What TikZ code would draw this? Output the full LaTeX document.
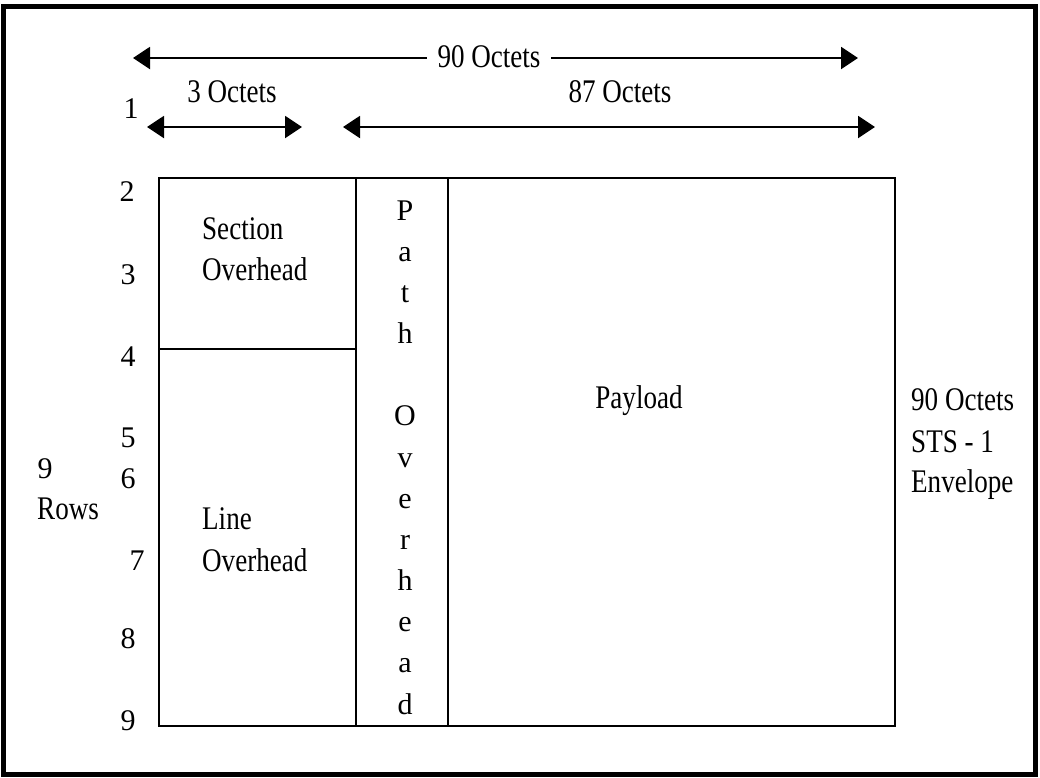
\documentclass[tikz,border=0pt]{standalone}
\usepackage{fontspec}
\setmainfont{Liberation Serif}
\newfontfamily\condfont{Liberation Serif}[FakeStretch=0.82]
\usetikzlibrary{arrows.meta}
\begin{document}
\begin{tikzpicture}[x=1pt,y=-1pt,
  lbl/.style={inner sep=0pt,anchor=base,font=\fontsize{30}{36}\selectfont},
  wlbl/.style={inner sep=0pt,anchor=base,font=\fontsize{33}{40}\selectfont\condfont},
  dim/.style={line width=2pt,{Triangle[length=17pt,width=22pt]}-{Triangle[length=17pt,width=22pt]}},
  half/.style={line width=2pt,-{Triangle[length=17pt,width=22pt]}},
  box/.style={line width=1.8pt},
  divider/.style={line width=1.3pt}]
\useasboundingbox (0,0) rectangle (1040,777);
% outer frame
\draw[line width=5pt] (3,6) rectangle (1035,774);

% frame cells
\coordinate (tl) at (159,178);
\coordinate (br) at (895,726);
\draw[box] (tl) rectangle (br);
\draw[divider] (356,178) -- (356,726);
\draw[divider] (448,178) -- (448,726);
\draw[divider] (159,349) -- (356,349);

% width dimensions
\node[wlbl,inner xsep=10.5pt] (t90) at (489,67) {90 Octets};
\coordinate (a90l) at (133,58);
\coordinate (a90r) at (858,58);
\draw[half] (t90.west |- a90l) -- (a90l);
\draw[half] (t90.east |- a90r) -- (a90r);

\node[wlbl] (t3) at (232,102) {3 Octets};
\node[wlbl] (t87) at (620,102) {87 Octets};
\coordinate (a3l) at (147,127);
\coordinate (a3r) at (302,127);
\coordinate (a87l) at (343,127);
\coordinate (a87r) at (875,127);
\draw[dim] (a3l) -- (a3r);
\draw[dim] (a87l) -- (a87r);

% row numbers
\node[lbl] (r1) at (131,118) {1};
\node[lbl] (r2) at (127,201) {2};
\node[lbl] (r3) at (128,284) {3};
\node[lbl] (r4) at (128,366) {4};
\node[lbl] (r5) at (128,447) {5};
\node[lbl] (r6) at (128,488) {6};
\node[lbl] (r7) at (137,570) {7};
\node[lbl] (r8) at (128,648) {8};
\node[lbl] (r9) at (128,730) {9};
\node[lbl] (rows9) at (45,478) {9};
\node[wlbl,anchor=base west] (rows) at (37,519) {Rows};

% cell labels
\node[wlbl,anchor=base west] (sec1) at (202,239) {Section};
\node[wlbl,anchor=base west] (sec2) at (202,280) {Overhead};
\node[wlbl,anchor=base west] (line1) at (202,529) {Line};
\node[wlbl,anchor=base west] (line2) at (202,571) {Overhead};
\node[wlbl] (pay) at (639,408) {Payload};
\foreach \c [count=\i from 0] in {P,a,t,h,{},O,v,e,r,h,e,a,d}
  \node[lbl] (p\i) at (405,220+\i*41.17) {\c};

% envelope label
\node[wlbl,anchor=base west] (env1) at (911,410) {90 Octets};
\node[wlbl,anchor=base west] (env2) at (911,452) {STS - 1};
\node[wlbl,anchor=base west] (env3) at (911,492) {Envelope};
\end{tikzpicture}
\end{document}
